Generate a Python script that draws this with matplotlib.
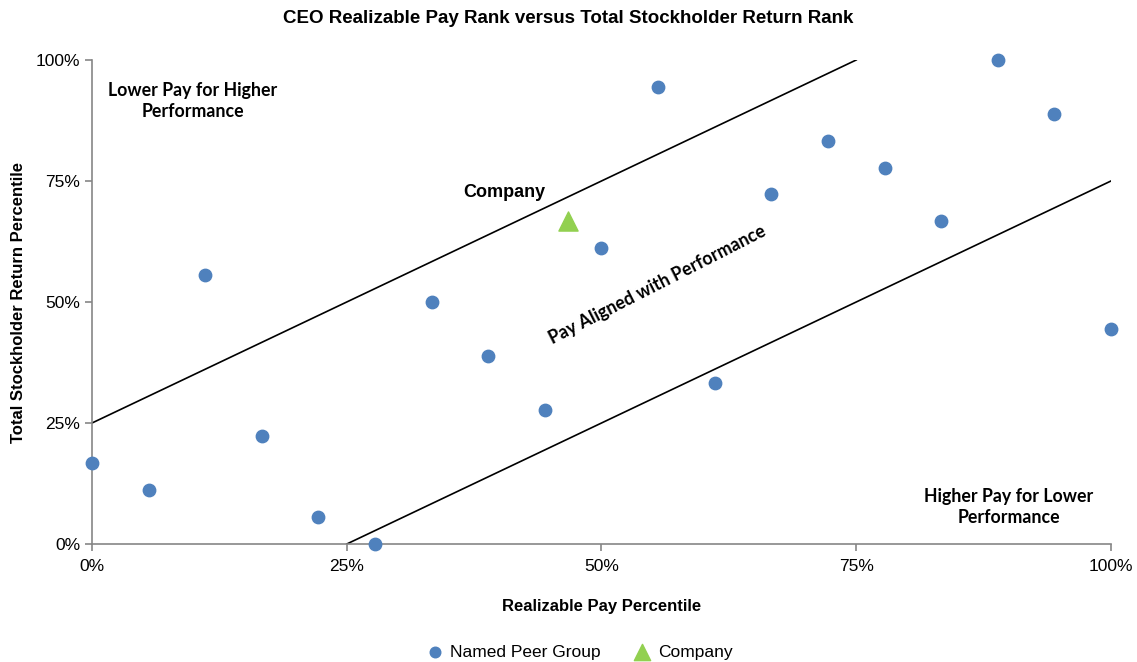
import numpy as np
import matplotlib.pyplot as plt
from matplotlib.ticker import PercentFormatter

plt.rcParams['font.family'] = ['Liberation Sans', 'DejaVu Sans']
sans = ['Liberation Sans', 'DejaVu Sans']

# Peer group percentiles
peer_pay = [0.0, 0.0556, 0.1111, 0.1667, 0.2222, 0.2778, 0.3333, 0.3889, 0.4444,
            0.5, 0.5556, 0.6111, 0.6667, 0.7222, 0.7778, 0.8333, 0.8889, 0.9444, 1.0]
peer_tsr = [0.1667, 0.1111, 0.5556, 0.2222, 0.0556, 0.0, 0.5, 0.3889, 0.2778,
            0.6111, 0.9444, 0.3333, 0.7222, 0.8333, 0.7778, 0.6667, 1.0, 0.8889, 0.4444]

company_pay = [0.467]
company_tsr = [0.668]

# Alignment band boundaries
upper_x = [0.0, 0.75]
upper_y = [0.25, 1.0]
lower_x = [0.25, 1.0]
lower_y = [0.0, 0.75]

ticks = [0, 0.25, 0.5, 0.75, 1.0]

fig = plt.figure(figsize=(11.37, 6.62), dpi=100)
ax = fig.add_axes([0.0809, 0.1782, 0.8962, 0.7312])

ax.plot(upper_x, upper_y, color='black', lw=1.2)
ax.plot(lower_x, lower_y, color='black', lw=1.2)

ax.scatter(peer_pay, peer_tsr, s=80, color='#4F81BD', zorder=3, clip_on=False,
           label='Named Peer Group')
ax.scatter(company_pay, company_tsr, s=190, marker='^', color='#92D050', zorder=3,
           clip_on=False, label='Company')

ax.set_xlim(0, 1)
ax.set_ylim(0, 1)
ax.set_xticks(ticks)
ax.set_yticks(ticks)
ax.xaxis.set_major_formatter(PercentFormatter(1.0, decimals=0))
ax.yaxis.set_major_formatter(PercentFormatter(1.0, decimals=0))
ax.tick_params(labelsize=12.5, color='#868686', length=5, width=1.2)
ax.tick_params(axis='x', pad=6)
for lbl in ax.get_xticklabels() + ax.get_yticklabels():
    lbl.set_family(sans)
for s in ['top', 'right']:
    ax.spines[s].set_visible(False)
for s in ['left', 'bottom']:
    ax.spines[s].set_color('#868686')
    ax.spines[s].set_linewidth(1.2)

ax.set_xlabel('Realizable Pay Percentile', fontsize=12, fontweight='bold', labelpad=18,
              family=sans)
ax.set_ylabel('Total Stockholder Return Percentile', fontsize=12, fontweight='bold',
              labelpad=7, family=sans)
fig.suptitle('CEO Realizable Pay Rank versus Total Stockholder Return Rank',
             fontsize=13.5, fontweight='bold', y=0.985, family=sans)

ann = dict(fontsize=12.8, fontweight='bold', family=['Lato', 'DejaVu Sans'])
ax.text(0.099, 0.915, 'Lower Pay for Higher\nPerformance', ha='center', va='center',
        linespacing=1.3, **ann)
ax.text(0.9, 0.076, 'Higher Pay for Lower\nPerformance', ha='center', va='center',
        linespacing=1.3, **ann)
ax.text(0.555, 0.535, 'Pay Aligned with Performance', ha='center', va='center',
        rotation=27, rotation_mode='anchor', **ann)
ax.text(0.405, 0.727, 'Company', ha='center', va='center', fontsize=13, fontweight='bold',
        family=sans)

ax.legend(loc='upper center', bbox_to_anchor=(0.474, -0.175), ncol=2, frameon=False,
          prop={'family': sans, 'size': 12.5}, handletextpad=-0.1, columnspacing=1.4,
          markerscale=0.85)

fig.savefig('out.png', dpi=100)
